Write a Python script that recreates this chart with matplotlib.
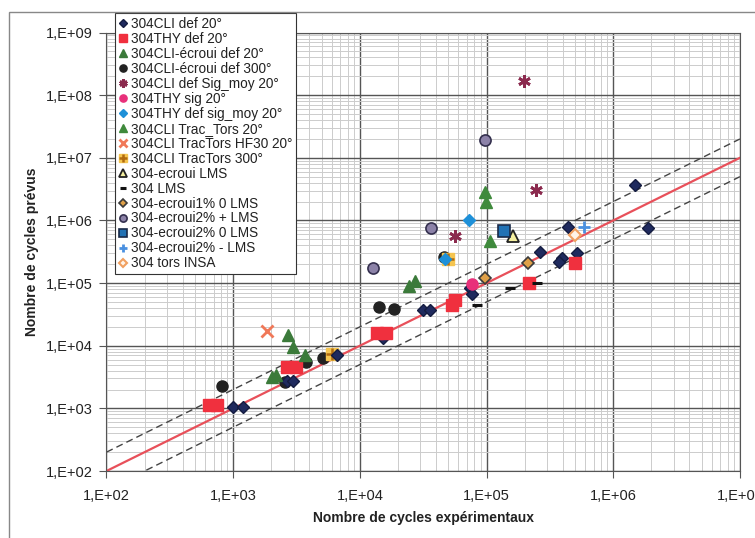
import numpy as np
import matplotlib
matplotlib.use('Agg')
import matplotlib.pyplot as plt
from matplotlib.ticker import LogLocator, FuncFormatter, NullFormatter
from matplotlib.patches import Rectangle

plt.rcParams['font.family'] = ['Liberation Sans', 'DejaVu Sans']

# experimental cycles (x) / predicted cycles (y), one pair of lists per series
cli_def20_x = [1000, 1200, 2660, 2960, 6590, 15200, 31500, 35700, 74000, 76700,
               264000, 394000, 372000, 516000, 438000, 1.48e6, 1.88e6]
cli_def20_y = [1050, 1050, 2740, 2740, 7120, 13300, 37300, 37300, 83700, 67100,
               315000, 253000, 218000, 303000, 791000, 3.71e6, 763000]

thy_def20_x = [644, 745, 2660, 3130, 13600, 16100, 53300, 56400, 216000, 499000]
thy_def20_y = [1130, 1130, 4580, 4580, 16000, 16000, 44900, 54000, 101000, 210000]

cli_ecr20_x = [2700, 2960, 3690, 2020, 2180, 24400, 27200]
cli_ecr20_y = [14900, 9570, 7130, 3170, 3420, 90200, 108000]

cli_ecr300_x = [816, 2560, 3760, 5120, 14200, 18600, 46100]
cli_ecr300_y = [2280, 2640, 5510, 6380, 41700, 38700, 262000]

cli_sigmoy_x = [197000, 245000, 56400]
cli_sigmoy_y = [1.70e8, 3.08e6, 568000]

thy_sig_x = [76700]
thy_sig_y = [97000]

thy_sigmoy_x = [72600, 47000]
thy_sigmoy_y = [1.02e6, 244000]

cli_tractors_x = [97000, 98800, 106000]
cli_tractors_y = [2.86e6, 1.98e6, 472000]

cli_hf30_x = [1850]
cli_hf30_y = [17200]

cli_tt300_x = [6030, 49700]
cli_tt300_y = [7400, 244000]

ecr_lms_x = [161000]
ecr_lms_y = [568000]

lms_x = [153000, 84000, 250000]
lms_y = [83700, 44900, 101000]

ecr1_0_x = [97000, 212000]
ecr1_0_y = [121000, 210000]

ecr2_p_x = [97000, 36400, 12700]
ecr2_p_y = [1.94e7, 763000, 175000]

ecr2_0_x = [137000]
ecr2_0_y = [683000]

ecr2_m_x = [587000]
ecr2_m_y = [791000]

insa_x = [499000]
insa_y = [589000]

line_x = [1e2, 1e7]
scatter_factor = 2

fig = plt.figure(figsize=(7.55, 5.38), dpi=100)
ax = fig.add_axes([0.141, 0.1245, 0.839, 0.815])

# outer chart frame (Excel style)
fig.patches.append(Rectangle((9 / 755, -0.1), 1.2, 1 - 12 / 538 + 0.1,
                             transform=fig.transFigure, fill=False,
                             edgecolor='#888888', lw=1))

ax.set_xscale('log')
ax.set_yscale('log')
ax.set_xlim(1e2, 1e7)
ax.set_ylim(1e2, 1e9)

ax.xaxis.set_major_locator(LogLocator(base=10, numticks=20))
ax.yaxis.set_major_locator(LogLocator(base=10, numticks=20))
ax.xaxis.set_minor_locator(LogLocator(base=10, subs=np.arange(2, 10), numticks=100))
ax.yaxis.set_minor_locator(LogLocator(base=10, subs=np.arange(2, 10), numticks=100))
fmt = FuncFormatter(lambda v, p: '1,E+%02d' % round(np.log10(v)))
ax.xaxis.set_major_formatter(fmt)
ax.yaxis.set_major_formatter(fmt)
ax.xaxis.set_minor_formatter(NullFormatter())
ax.yaxis.set_minor_formatter(NullFormatter())

ax.grid(True, which='minor', color='#cccccc', lw=0.7)
ax.grid(True, which='major', color='#555555', lw=1.0)
ax.set_axisbelow(True)
for s in ax.spines.values():
    s.set_color('#555555')
ax.tick_params(which='major', direction='out', length=5, color='#555555',
               labelsize=10.5, labelcolor='#222222', pad=5)
ax.tick_params(axis='x', which='major', pad=8)
ax.tick_params(which='minor', length=0)

# reference lines
lx = np.array(line_x)
ax.plot(lx, lx, color='#e8505a', lw=1.6, zorder=2)
ax.plot(lx, lx * scatter_factor, color='#444444', lw=1.0, ls=(0, (5, 3)), zorder=2)
ax.plot(lx, lx / scatter_factor, color='#444444', lw=1.0, ls=(0, (5, 3)), zorder=2)

h = []
h.append(ax.plot(cli_def20_x, cli_def20_y, 'D', ms=6, color='#1f2a5e', mec='#141c40',
                 zorder=4)[0])
h.append(ax.plot(thy_def20_x, thy_def20_y, 's', ms=8.5, color='#f0303e', mec='#f0303e',
                 zorder=4)[0])
h.append(ax.plot(cli_ecr20_x, cli_ecr20_y, '^', ms=8, color='#3b7a3a', mec='#3b7a3a',
                 zorder=4)[0])
h.append(ax.plot(cli_ecr300_x, cli_ecr300_y, 'o', ms=8, color='#222222', mec='#222222',
                 zorder=3)[0])
h.append(ax.plot(cli_sigmoy_x, cli_sigmoy_y, ls='none', marker=(6, 2, 0), ms=9, mew=2,
                 color='#8b2a4e', zorder=4)[0])
h.append(ax.plot(thy_sig_x, thy_sig_y, 'o', ms=8, color='#e8307a', mec='#e8307a',
                 zorder=4)[0])
h.append(ax.plot(thy_sigmoy_x, thy_sigmoy_y, 'D', ms=6, color='#1e90d8', mec='#1e90d8',
                 zorder=5)[0])
h.append(ax.plot(cli_tractors_x, cli_tractors_y, '^', ms=8, color='#3f8a3c', mec='#3f8a3c',
                 zorder=4)[0])
h.append(ax.plot(cli_hf30_x, cli_hf30_y, 'x', ms=8, mew=2, color='#f07858', zorder=4)[0])
tt_sq = ax.plot(cli_tt300_x, cli_tt300_y, 's', ms=9, color='#f5c550', mec='#f5c550', zorder=3)[0]
tt_pl = ax.plot(cli_tt300_x, cli_tt300_y, '+', ms=9, mew=1.8, color='#b06a10', zorder=3)[0]
h.append((tt_sq, tt_pl))
h.append(ax.plot(ecr_lms_x, ecr_lms_y, '^', ms=8, color='#f5f0a0', mec='#222222', mew=1.3,
                 zorder=4)[0])
h.append(ax.plot(lms_x, lms_y, '_', ms=7, mew=2.2, color='#111111', zorder=4)[0])
h.append(ax.plot(ecr1_0_x, ecr1_0_y, 'D', ms=6, color='#e0a048', mec='#3a3a3a', mew=1.2,
                 zorder=4)[0])
h.append(ax.plot(ecr2_p_x, ecr2_p_y, 'o', ms=8, color='#8c82a8', mec='#34304e', mew=1.2,
                 zorder=4)[0])
h.append(ax.plot(ecr2_0_x, ecr2_0_y, 's', ms=8, color='#2272b4', mec='#1a2a48', mew=1.2,
                 zorder=4)[0])
h.append(ax.plot(ecr2_m_x, ecr2_m_y, '+', ms=9, mew=2, color='#4a90e0', zorder=4)[0])
h.append(ax.plot(insa_x, insa_y, 'D', ms=6, color='#fff4e8', mec='#f0a060', mew=1.5,
                 zorder=4)[0])

labels = ['304CLI def 20°', '304THY def 20°', '304CLI-écroui def 20°', '304CLI-écroui def 300°',
          '304CLI def Sig_moy 20°', '304THY sig 20°', '304THY def sig_moy 20°',
          '304CLI Trac_Tors 20°', '304CLI TracTors HF30 20°', '304CLI TracTors 300°',
          '304-ecroui LMS', '304 LMS', '304-ecroui1% 0 LMS', '304-ecroui2% + LMS',
          '304-ecroui2% 0 LMS', '304-ecroui2% - LMS', '304 tors INSA']
leg = ax.legend(h, labels, loc='upper left', bbox_to_anchor=(115 / 755, 1 - 13 / 538),
                bbox_transform=fig.transFigure, fontsize=9.8, labelspacing=0.07,
                handlelength=0.6, handletextpad=0.25, borderpad=0.3, markerscale=0.65,
                fancybox=False, framealpha=1, edgecolor='#333333', borderaxespad=0)
leg.get_frame().set_linewidth(0.8)
leg.set_zorder(10)
for t in leg.get_texts():
    t.set_color('#222222')

ax.set_xlabel('Nombre de cycles expérimentaux', fontsize=10, fontweight='bold',
              color='#222222', labelpad=6)
ax.set_ylabel('Nombre de cycles prévus', fontsize=10, fontweight='bold',
              color='#222222', labelpad=5)

fig.savefig('out.png', dpi=100)
